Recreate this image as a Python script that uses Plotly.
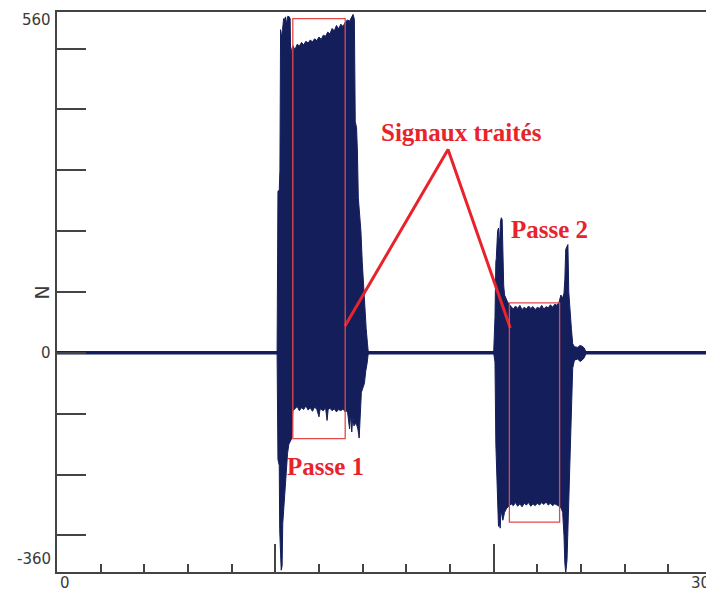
import plotly.graph_objects as go

# envelope of the force signal (N), time axis 0..30
pass1_x_up = [10.08, 10.12, 10.18, 10.21, 10.24, 10.28, 10.33, 10.38, 10.42, 10.47, 10.51, 10.57,
              10.64, 10.68, 10.70, 10.76, 10.80, 10.90, 11.00, 11.10, 11.20, 11.30, 11.40, 11.50,
              11.60, 11.70, 11.80, 11.90, 12.00, 12.10, 12.20, 12.30, 12.40, 12.50, 12.60, 12.70,
              12.80, 12.90, 13.00, 13.10, 13.20, 13.30, 13.40, 13.50, 13.56, 13.62, 13.66, 13.72,
              13.76, 13.80, 13.86, 13.92, 13.98, 14.04, 14.10, 14.16, 14.22, 14.26]
pass1_up = [0, 265, 268, 300, 531, 519, 531, 549, 548, 552, 540, 553,
            552, 549, 492, 501, 505, 498, 507, 504, 510, 506, 512, 509,
            514, 511, 516, 513, 519, 515, 522, 520, 527, 524, 533, 529,
            538, 532, 540, 536, 543, 547, 545, 552, 556, 548, 380, 370,
            330, 255, 225, 200, 150, 110, 75, 40, 15, 0]
pass1_x_low = [10.08, 10.12, 10.18, 10.20, 10.24, 10.27, 10.31, 10.34, 10.38, 10.44, 10.50, 10.56,
               10.62, 10.70, 10.76, 10.80, 10.90, 11.00, 11.10, 11.20, 11.30, 11.40, 11.50, 11.60,
               11.70, 11.80, 11.90, 12.00, 12.05, 12.20, 12.30, 12.37, 12.42, 12.50, 12.60, 12.70,
               12.80, 12.90, 13.00, 13.10, 13.20, 13.30, 13.40, 13.45, 13.50, 13.55, 13.60, 13.70,
               13.78, 13.84, 13.88, 13.94, 14.00, 14.08, 14.14, 14.20, 14.26]
pass1_low = [0, -175, -185, -290, -330, -357, -350, -280, -265, -215, -200, -165,
             -150, -145, -140, -95, -92, -88, -95, -90, -93, -87, -94, -90,
             -96, -89, -93, -105, -92, -95, -90, -111, -93, -91, -95, -92,
             -97, -93, -95, -92, -97, -95, -125, -100, -130, -105, -120, -115,
             -125, -140, -110, -65, -60, -50, -30, -18, 0]

pass2_x_up = [20.00, 20.03, 20.06, 20.10, 20.12, 20.18, 20.22, 20.25, 20.28, 20.31, 20.35, 20.39,
              20.42, 20.46, 20.50, 20.55, 20.62, 20.70, 20.80, 20.90, 21.00, 21.10, 21.20, 21.30,
              21.40, 21.50, 21.60, 21.70, 21.80, 21.90, 22.00, 22.10, 22.20, 22.30, 22.40, 22.50,
              22.60, 22.70, 22.80, 22.90, 23.00, 23.08, 23.16, 23.22, 23.26, 23.30, 23.36, 23.40,
              23.44, 23.50, 23.56, 23.62, 23.70, 23.85, 23.95, 24.05, 24.15, 24.24]
pass2_up = [0, 20, 58, 150, 155, 200, 205, 180, 190, 215, 222, 219,
            150, 110, 95, 90, 85, 80, 76, 72, 77, 73, 78, 71,
            75, 72, 77, 73, 76, 71, 75, 73, 78, 72, 76, 74,
            79, 75, 80, 78, 84, 95, 90, 98, 120, 170, 175, 178,
            100, 60, 40, 15, 10, 9, 12, 11, 8, 0]
pass2_x_low = [20.00, 20.03, 20.06, 20.10, 20.12, 20.18, 20.22, 20.26, 20.30, 20.33, 20.37, 20.42,
               20.50, 20.60, 20.70, 20.80, 20.90, 21.00, 21.10, 21.20, 21.30, 21.40, 21.50, 21.60,
               21.70, 21.80, 21.90, 22.00, 22.10, 22.20, 22.30, 22.40, 22.50, 22.60, 22.70, 22.80,
               22.90, 23.00, 23.10, 23.16, 23.22, 23.26, 23.30, 23.36, 23.42, 23.48, 23.56, 23.62,
               23.70, 23.85, 23.95, 24.05, 24.15, 24.24]
pass2_low = [0, -5, -15, -150, -200, -240, -285, -280, -288, -260, -265, -275,
             -262, -255, -252, -248, -251, -246, -252, -248, -253, -247, -250, -246,
             -252, -248, -251, -247, -250, -246, -249, -245, -250, -247, -251, -248,
             -250, -252, -256, -262, -300, -345, -362, -340, -250, -180, -100, -25,
             -12, -10, -14, -12, -8, 0]

baseline_x = [0, 30]
baseline_y = [0, 0]

# red call-outs
rect1 = [10.80, 13.20, -141, 549]
rect2 = [20.72, 23.02, -278, 82]
callout_x = [13.19, 17.91, 20.76]
callout_y = [44, 334, 41]

navy = "#141e5b"
red = "#e8232b"

fig = go.Figure()

fig.add_trace(go.Scatter(x=baseline_x, y=baseline_y, mode="lines",
                         line=dict(color=navy, width=3.5), hoverinfo="skip"))

for xs_up, ys_up, xs_low, ys_low in [(pass1_x_up, pass1_up, pass1_x_low, pass1_low),
                                     (pass2_x_up, pass2_up, pass2_x_low, pass2_low)]:
    fig.add_trace(go.Scatter(x=xs_up + xs_low[::-1], y=ys_up + ys_low[::-1],
                             mode="lines", fill="toself", fillcolor=navy,
                             line=dict(color=navy, width=1), hoverinfo="skip"))

for r in (rect1, rect2):
    fig.add_shape(type="rect", x0=r[0], x1=r[1], y0=r[2], y1=r[3],
                  line=dict(color="#e64848", width=1.3))

fig.add_trace(go.Scatter(x=callout_x, y=callout_y, mode="lines",
                         line=dict(color=red, width=3), hoverinfo="skip"))

label_font = dict(family="Liberation Serif", size=25, color=red)
fig.add_annotation(x=18.51, y=362, text="<b>Signaux traités</b>", showarrow=False, font=label_font)
fig.add_annotation(x=12.32, y=-186, text="<b>Passe 1</b>", showarrow=False, font=label_font)
fig.add_annotation(x=22.57, y=203, text="<b>Passe 2</b>", showarrow=False, font=label_font)

tick_font = dict(family="DejaVu Sans", size=15, color="#3a3a3a")
fig.add_annotation(xref="paper", x=-0.006, y=560, yanchor="top", xanchor="right",
                   text="560", showarrow=False, font=tick_font, yshift=3)
fig.add_annotation(xref="paper", x=-0.006, y=0, xanchor="right",
                   text="0", showarrow=False, font=tick_font)
fig.add_annotation(xref="paper", x=-0.006, y=-360, yanchor="bottom", xanchor="right",
                   text="-360", showarrow=False, font=tick_font, yshift=2)
fig.add_annotation(x=0, yref="paper", y=0, yanchor="top", xanchor="left",
                   text="0", showarrow=False, font=tick_font, xshift=1)
fig.add_annotation(x=30, yref="paper", y=0, yanchor="top", xanchor="right",
                   text="30", showarrow=False, font=tick_font)
fig.add_annotation(xref="paper", x=-0.042, y=100, text="N", textangle=-90, showarrow=False,
                   font=dict(family="DejaVu Sans", size=19, color="#3a3a3a"))

# the page body adds an 8px margin, so the figure is sized to fill the rest
fig.update_layout(
    width=706,
    height=585,
    margin=dict(l=49, r=2, t=2, b=21),
    plot_bgcolor="white",
    paper_bgcolor="white",
    showlegend=False,
    xaxis=dict(range=[0, 30], showgrid=False, zeroline=False, showline=True, mirror=True,
               linecolor="#444", linewidth=1.5, ticks="inside", tickvals=[10, 20],
               ticklen=28, tickwidth=1.5, tickcolor="#444", showticklabels=False,
               minor=dict(dtick=2, ticks="inside", ticklen=8, tickwidth=1.5, tickcolor="#444")),
    yaxis=dict(range=[-360, 560], showgrid=False, zeroline=False, showline=True,
               linecolor="#444", linewidth=1.5, ticks="inside",
               tickvals=[-300, -200, -100, 0, 100, 200, 300, 400, 500],
               ticklen=29, tickwidth=1.5, tickcolor="#444", showticklabels=False),
)

fig.write_html("out.html")
